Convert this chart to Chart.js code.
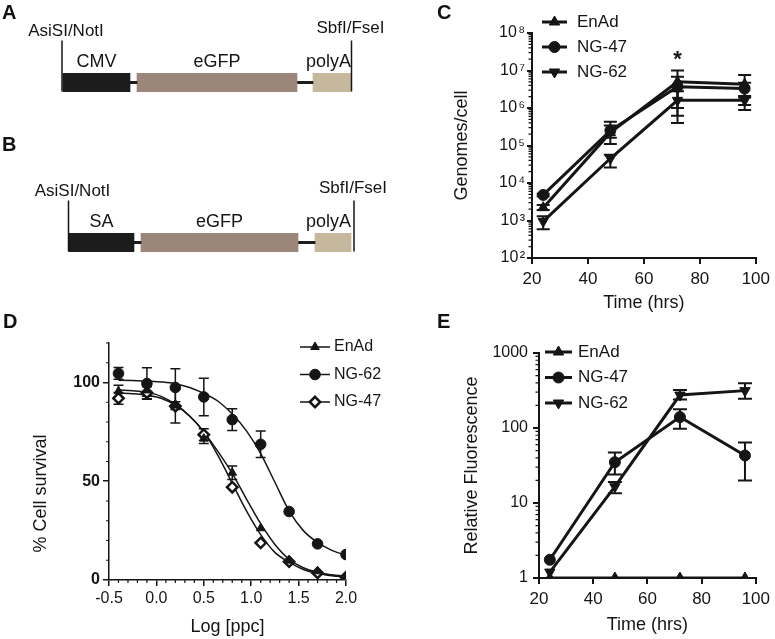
<!DOCTYPE html>
<html>
<head>
<meta charset="utf-8">
<script src="https://cdn.jsdelivr.net/npm/chart.js@4.4.1/dist/chart.umd.min.js"></script>
<style>
  html, body { margin: 0; padding: 0; background: #fff; }
  body { width: 775px; height: 639px; position: relative; overflow: hidden; font-family: 'Liberation Sans', Arial, sans-serif; }
  .panel { position: absolute; }
  .letter { position: absolute; font-weight: bold; font-size: 20px; line-height: 1; color: #111; z-index: 2; }
</style>
</head>
<body>
<div class="letter" style="left:2px;top:2px">A</div>
<div class="letter" style="left:2px;top:134px">B</div>
<div class="letter" style="left:437px;top:2px">C</div>
<div class="letter" style="left:3px;top:311px">D</div>
<div class="letter" style="left:437px;top:311px">E</div>

<div class="panel" style="left:0;top:0;width:400px;height:330px"><canvas id="construct"></canvas></div>
<div class="panel" style="left:400px;top:0;width:375px;height:320px"><canvas id="genomes"></canvas></div>
<div class="panel" style="left:0;top:320px;width:400px;height:325px"><canvas id="survival"></canvas></div>
<div class="panel" style="left:400px;top:320px;width:375px;height:319px"><canvas id="fluor"></canvas></div>

<script>
// ---- A/B: expression cassettes (map position, arbitrary units) ----
const constructRows = ['A', 'B'];
const promoterNames = ['CMV', 'SA'];
const promoterSpan = [[63, 130], [69, 134]];
const linker1Span = [[130, 137], [134, 141]];
const gfpSpan = [[137, 297], [141, 298]];
const linker2Span = [[297, 313], [298, 315]];
const polyASpan = [[313, 351], [315, 351]];
const siteLeft = [62, 68.5];
const siteRight = [351.5, 354];

// ---- C: genomes per cell ----
const hours = [24, 48, 72, 96];
const enadGenomes = [2200, 2.2e5, 5.0e6, 4.3e6];
const enadGenomesLow = [1900, 1.1e5, 1.0e6, 8.9e5];
const enadGenomesHigh = [2600, 3.4e5, 1.0e7, 7.6e6];
const ng47Genomes = [4800, 2.5e5, 3.7e6, 3.3e6];
const ng47GenomesLow = [4400, 1.6e5, 6.2e5, 1.9e6];
const ng47GenomesHigh = [5200, 4.3e5, 6.8e6, 4.7e6];
const ng62Genomes = [950, 4.5e4, 1.6e6, 1.6e6];
const ng62GenomesLow = [580, 2.6e4, 4.0e5, 1.2e6];
const ng62GenomesHigh = [1300, 5.7e4, 2.8e6, 2.1e6];
const genomeTicks = [1e2, 1e3, 1e4, 1e5, 1e6, 1e7, 1e8];
const starHours = [72];
const starLevel = [2.4e7];

// ---- D: cell survival ----
const logPpc = [-0.4, -0.1, 0.2, 0.5, 0.8, 1.1, 1.4, 1.7, 2.0];
const enadSurvival = [95.6, 96.0, 88.3, 71.6, 54.3, 26.2, 9.8, 4.4, 1.7];
const enadSd = [3, 3, 2, 2.5, 3.4, 0, 0, 0, 0];
const ng62Survival = [104.6, 99.5, 97.5, 92.7, 81.2, 68.7, 34.7, 18.3, 12.9];
const ng62Sd = [3, 8, 9.5, 9.5, 5.5, 6.7, 0, 0, 0];
const ng47Survival = [92.0, 94.8, 88.0, 73.6, 47.0, 18.8, 9.3, 3.6, 1.4];
const ng47Sd = [3, 3, 8.5, 3, 0, 0, 0, 0, 0];
const fitX = [-0.4, -0.25, -0.1, 0.05, 0.2, 0.35, 0.5, 0.65, 0.8, 0.95, 1.1, 1.25, 1.4, 1.55, 1.7, 1.85, 2.0];
const enadFit = [96.2, 95.8, 95.0, 93.0, 89.0, 83.0, 75.0, 65.0, 54.0, 41.0, 28.5, 18.0, 10.5, 6.2, 3.8, 2.6, 1.9];
const ng47Fit = [94.6, 94.3, 93.6, 92.0, 88.5, 83.0, 75.0, 63.0, 49.0, 35.0, 23.0, 14.0, 9.0, 5.3, 3.3, 2.2, 1.6];
const ng62Fit = [101.2, 101.0, 100.8, 100.3, 99.4, 97.5, 94.5, 90.5, 84.0, 75.5, 64.0, 49.5, 35.0, 25.0, 19.0, 15.0, 12.4];
const ppcTicks = [-0.5, 0, 0.5, 1.0, 1.5, 2.0];
const survivalTicks = [0, 50, 100];

// ---- E: relative fluorescence ----
const enadFluor = [1, 1, 1, 1];
const ng47Fluor = [1.75, 35, 140, 43];
const ng47FluorLow = [null, 24, 98, 20];
const ng47FluorHigh = [null, 47, 178, 64];
const ng62Fluor = [1.2, 16.5, 275, 315];
const ng62FluorLow = [null, 13.5, 240, 245];
const ng62FluorHigh = [null, 19, 320, 395];
const fluorTicks = [1, 10, 100, 1000];

const INK = '#151515';
const FONT = "'Liberation Sans', Arial, sans-serif";
const SUP = { 2: '\u00b2', 3: '\u00b3', 4: '\u2074', 5: '\u2075', 6: '\u2076', 7: '\u2077', 8: '\u2078' };

Chart.defaults.font.family = FONT;
Chart.defaults.color = INK;
Chart.defaults.animation = false;
Chart.defaults.responsive = true;
Chart.defaults.maintainAspectRatio = false;
Chart.defaults.plugins.legend.display = false;
Chart.defaults.plugins.tooltip.enabled = false;

function logMinors(lo, hi) {
    const out = [];
    for (let d = lo; d < hi; d *= 10) {
        for (let m = 2; m <= 9; m++) out.push(m * d);
    }
    return out;
}

// error bars from dataset.errLow / dataset.errHigh
const errorBars = {
    id: 'errorBars',
    beforeDatasetsDraw(chart, args, opts) {
        const ctx = chart.ctx;
        const yScale = chart.scales.y;
        ctx.save();
        ctx.strokeStyle = INK;
        ctx.lineWidth = opts.width;
        chart.data.datasets.forEach((ds, i) => {
            if (!ds.errLow) return;
            chart.getDatasetMeta(i).data.forEach((pt, j) => {
                const lo = ds.errLow[j], hi = ds.errHigh[j];
                if (lo == null || hi == null || lo === hi) return;
                const yl = yScale.getPixelForValue(lo), yh = yScale.getPixelForValue(hi);
                ctx.beginPath();
                ctx.moveTo(pt.x, yl); ctx.lineTo(pt.x, yh);
                ctx.moveTo(pt.x - opts.cap, yl); ctx.lineTo(pt.x + opts.cap, yl);
                ctx.moveTo(pt.x - opts.cap, yh); ctx.lineTo(pt.x + opts.cap, yh);
                ctx.stroke();
            });
        });
        ctx.restore();
    }
};

// short unlabeled ticks
const minorTicks = {
    id: 'minorTicks',
    afterDraw(chart, args, opts) {
        const { ctx, chartArea } = chart;
        ctx.save();
        ctx.strokeStyle = INK;
        ctx.lineWidth = opts.width;
        ctx.beginPath();
        (opts.y || []).forEach(v => {
            const py = chart.scales.y.getPixelForValue(v);
            ctx.moveTo(chartArea.left, py); ctx.lineTo(chartArea.left - opts.yLength, py);
        });
        (opts.x || []).forEach(v => {
            const px = chart.scales.x.getPixelForValue(v);
            ctx.moveTo(px, chartArea.bottom); ctx.lineTo(px, chartArea.bottom + opts.xLength);
        });
        ctx.stroke();
        ctx.restore();
    }
};

// legend with a line through each marker
const lineLegend = {
    id: 'lineLegend',
    afterDraw(chart, args, o) {
        const ctx = chart.ctx;
        let y = o.y0;
        ctx.save();
        chart.data.datasets.forEach(ds => {
            if (ds.legend === false) return;
            ctx.strokeStyle = INK;
            ctx.lineWidth = o.lineWidth;
            ctx.beginPath(); ctx.moveTo(o.x0, y); ctx.lineTo(o.x1, y); ctx.stroke();
            ctx.fillStyle = ds.pointBackgroundColor;
            ctx.strokeStyle = ds.pointBorderColor;
            ctx.lineWidth = ds.pointBorderWidth;
            Chart.helpers.drawPoint(ctx, {
                pointStyle: ds.pointStyle, radius: ds.pointRadius,
                rotation: ds.pointRotation || 0, borderWidth: ds.pointBorderWidth
            }, (o.x0 + o.x1) / 2, y);
            ctx.fillStyle = INK;
            ctx.font = o.textFont;
            ctx.textAlign = 'left';
            ctx.textBaseline = 'middle';
            ctx.fillText(ds.label, o.textX, y);
            y += o.gap;
        });
        ctx.restore();
    }
};

function series(label, xs, ys, lo, hi, style, rotation, radius, lineWidth) {
    return {
        label, data: xs.map((x, i) => ({ x, y: ys[i] })),
        errLow: lo, errHigh: hi,
        borderColor: INK, borderWidth: lineWidth,
        pointStyle: style, pointRotation: rotation, pointRadius: radius,
        pointBackgroundColor: INK, pointBorderColor: INK, pointBorderWidth: 1
    };
}

const axisGrid = (w, len) => ({ drawOnChartArea: false, tickLength: len, lineWidth: w, color: INK });

// ===== A / B =====
const constructMap = {
    id: 'constructMap',
    afterDatasetsDraw(chart) {
        const { ctx, scales: { x, y } } = chart;
        ctx.save();
        ctx.fillStyle = INK;
        ctx.strokeStyle = INK;
        ctx.lineWidth = 1.5;
        ctx.textAlign = 'center';
        ctx.textBaseline = 'middle';
        constructRows.forEach((row, i) => {
            const cy = y.getPixelForValue(i);
            [siteLeft[i], siteRight[i]].forEach(pos => {
                const px = x.getPixelForValue(pos);
                ctx.beginPath(); ctx.moveTo(px, cy - 42); ctx.lineTo(px, cy + 9); ctx.stroke();
            });
            ctx.font = '17px ' + FONT;
            ctx.fillText('AsiSI/NotI', x.getPixelForValue(siteLeft[i]) + 4, cy - 51);
            ctx.fillText('SbfI/FseI', x.getPixelForValue(siteRight[i]) - 1, cy - 54);
            ctx.font = '18px ' + FONT;
            [[promoterNames[i], promoterSpan[i]], ['eGFP', gfpSpan[i]], ['polyA', polyASpan[i]]].forEach(([name, span]) => {
                const a = x.getPixelForValue(span[0]), b = x.getPixelForValue(span[1]);
                const w = ctx.measureText(name).width;
                const cx = w > (b - a) ? b - w / 2 : (a + b) / 2;
                ctx.fillText(name, cx, cy - 20);
            });
        });
        ctx.restore();
    }
};

const box = (data, color, thick) => ({ data, backgroundColor: color, barThickness: thick, grouped: false, borderWidth: 0 });

new Chart(document.getElementById('construct'), {
    type: 'bar',
    data: {
        labels: constructRows,
        datasets: [
            box(promoterSpan, '#1c1c1c', 18.5),
            box(linker1Span, '#1c1c1c', 2.2),
            box(gfpSpan, '#9c8679', 18.5),
            box(linker2Span, '#1c1c1c', 2.2),
            box(polyASpan, '#c6b89c', 18.5)
        ]
    },
    options: {
        indexAxis: 'y',
        layout: { padding: { top: 2.5, bottom: 7.5, left: 0, right: 0 } },
        scales: {
            x: { type: 'linear', min: 0, max: 400, display: false },
            y: { type: 'category', display: false }
        }
    },
    plugins: [constructMap]
});

// ===== C =====
const starNotes = {
    id: 'starNotes',
    afterDraw(chart) {
        const { ctx, scales: { x, y } } = chart;
        ctx.save();
        ctx.fillStyle = INK;
        ctx.font = 'bold 22px ' + FONT;
        ctx.textAlign = 'center';
        ctx.textBaseline = 'middle';
        starHours.forEach((h, i) => ctx.fillText('*', x.getPixelForValue(h), y.getPixelForValue(starLevel[i]) + 4));
        ctx.restore();
    }
};

new Chart(document.getElementById('genomes'), {
    type: 'line',
    data: {
        datasets: [
            series('EnAd', hours, enadGenomes, enadGenomesLow, enadGenomesHigh, 'triangle', 0, 6, 3),
            series('NG-47', hours, ng47Genomes, ng47GenomesLow, ng47GenomesHigh, 'circle', 0, 5.5, 3),
            series('NG-62', hours, ng62Genomes, ng62GenomesLow, ng62GenomesHigh, 'triangle', 180, 6, 3)
        ]
    },
    options: {
        layout: { padding: { top: 33, right: 18, left: 0, bottom: 0 } },
        scales: {
            x: {
                type: 'linear', min: 20, max: 100,
                ticks: { stepSize: 20, font: { size: 17 }, padding: 5, color: INK },
                grid: axisGrid(2, 6), border: { color: INK, width: 2 },
                title: { display: true, text: 'Time (hrs)', font: { size: 18 }, color: INK, padding: { top: 0, bottom: 6 } },
                afterFit: s => { s.height = 62; }
            },
            y: {
                type: 'logarithmic', min: 1e2, max: 1e8,
                afterBuildTicks: s => { s.ticks = genomeTicks.map(v => ({ value: v })); },
                ticks: { callback: v => '10\u200a' + SUP[Math.round(Math.log10(v))], font: { size: 16 }, padding: 2, color: INK },
                grid: axisGrid(2, 5), border: { color: INK, width: 2 },
                title: { display: true, text: 'Genomes/cell', font: { size: 18 }, color: INK, padding: { top: 51, bottom: 0 } },
                afterFit: s => { s.width = 132; }
            }
        },
        plugins: {
            errorBars: { cap: 6.5, width: 2 },
            minorTicks: { y: logMinors(1e2, 1e8), yLength: 3.5, width: 1.2 },
            lineLegend: { x0: 142, x1: 167, textX: 177, y0: 22, gap: 25, lineWidth: 3, textFont: '17px ' + FONT }
        }
    },
    plugins: [errorBars, minorTicks, lineLegend, starNotes]
});

// ===== D =====
const pm = (vals, sd, sign) => vals.map((v, i) => sd[i] ? v + sign * sd[i] : null);
const fitLine = (ys) => ({
    data: fitX.map((x, i) => ({ x, y: ys[i] })), legend: false,
    borderColor: INK, borderWidth: 1.5, pointRadius: 0, cubicInterpolationMode: 'monotone'
});
const survivalPoints = (label, ys, sd, style, radius, fill, bw) => ({
    label, data: logPpc.map((x, i) => ({ x, y: ys[i] })), showLine: false,
    errLow: pm(ys, sd, -1), errHigh: pm(ys, sd, 1),
    pointStyle: style, pointRadius: radius, pointRotation: 0,
    pointBackgroundColor: fill, pointBorderColor: INK, pointBorderWidth: bw,
    borderColor: INK
});

const titleNotes = {
    id: 'titleNotes',
    afterDraw(chart) {
        const { ctx, chartArea } = chart;
        ctx.save();
        ctx.fillStyle = INK;
        ctx.font = '18px ' + FONT;
        ctx.textAlign = 'center';
        ctx.textBaseline = 'middle';
        ctx.translate(41, (chartArea.top + chartArea.bottom) / 2 + 32);
        ctx.rotate(-Math.PI / 2);
        ctx.fillText('% Cell survival', 0, 0);
        ctx.restore();
    }
};

const ppcMinor = [];
for (let k = -4; k <= 19; k++) if (k % 5 !== 0) ppcMinor.push(k / 10);
const survivalMinor = [10, 20, 30, 40, 60, 70, 80, 90, 110, 120];

new Chart(document.getElementById('survival'), {
    type: 'line',
    data: {
        datasets: [
            survivalPoints('EnAd', enadSurvival, enadSd, 'triangle', 5, INK, 1),
            survivalPoints('NG-62', ng62Survival, ng62Sd, 'circle', 5.3, INK, 1),
            survivalPoints('NG-47', ng47Survival, ng47Sd, 'rectRot', 5.2, '#ffffff', 2.5),
            fitLine(enadFit),
            fitLine(ng62Fit),
            fitLine(ng47Fit)
        ]
    },
    options: {
        layout: { padding: { top: 23, right: 54, left: 0, bottom: 0 } },
        scales: {
            x: {
                type: 'linear', min: -0.5, max: 2.0,
                afterBuildTicks: s => { s.ticks = ppcTicks.map(v => ({ value: v })); },
                ticks: { callback: v => v.toFixed(1), font: { size: 16 }, padding: 3, color: INK },
                grid: axisGrid(1.5, 6), border: { color: INK, width: 1.5 },
                title: { display: true, text: 'Log [ppc]', font: { size: 18 }, color: INK, padding: { top: 0, bottom: 7 } },
                afterFit: s => { s.height = 65; }
            },
            y: {
                type: 'linear', min: 0, max: 120,
                afterBuildTicks: s => { s.ticks = survivalTicks.map(v => ({ value: v })); },
                ticks: { font: { size: 16, weight: 'bold' }, padding: 3, color: INK },
                grid: axisGrid(1.5, 6), border: { color: INK, width: 1.5 },
                afterFit: s => { s.width = 109; }
            }
        },
        plugins: {
            errorBars: { cap: 5, width: 1.5 },
            minorTicks: { x: ppcMinor, y: survivalMinor, xLength: 3, yLength: 3, width: 1.2 },
            lineLegend: { x0: 300, x1: 330, textX: 334, y0: 27, gap: 27.5, lineWidth: 1.5, textFont: '16px ' + FONT }
        }
    },
    plugins: [errorBars, minorTicks, lineLegend, titleNotes]
});

// ===== E =====
const enadFluorSeries = series('EnAd', hours, enadFluor, null, null, 'triangle', 0, 6, 3);
enadFluorSeries.clip = { left: 10, right: 10, top: 10, bottom: 0 };

new Chart(document.getElementById('fluor'), {
    type: 'line',
    data: {
        datasets: [
            enadFluorSeries,
            series('NG-47', hours, ng47Fluor, ng47FluorLow, ng47FluorHigh, 'circle', 0, 5.5, 3),
            series('NG-62', hours, ng62Fluor, ng62FluorLow, ng62FluorHigh, 'triangle', 180, 6, 3)
        ]
    },
    options: {
        layout: { padding: { top: 33, right: 10, left: 0, bottom: 0 } },
        scales: {
            x: {
                type: 'linear', min: 20, max: 100,
                ticks: { stepSize: 20, font: { size: 17 }, padding: 5, color: INK },
                grid: axisGrid(2, 6), border: { color: INK, width: 2 },
                title: { display: true, text: 'Time (hrs)', font: { size: 18 }, color: INK, padding: { top: 0, bottom: 3 } },
                afterFit: s => { s.height = 61; }
            },
            y: {
                type: 'logarithmic', min: 1, max: 1000,
                afterBuildTicks: s => { s.ticks = fluorTicks.map(v => ({ value: v })); },
                ticks: { callback: v => String(v), font: { size: 16 }, padding: 5, color: INK },
                grid: axisGrid(2, 6), border: { color: INK, width: 2 },
                title: { display: true, text: 'Relative Fluorescence', font: { size: 18 }, color: INK, padding: { top: 61, bottom: 0 } },
                afterFit: s => { s.width = 139; }
            }
        },
        plugins: {
            errorBars: { cap: 7, width: 2 },
            minorTicks: { y: logMinors(1, 1000), yLength: 3.5, width: 1.2 },
            lineLegend: { x0: 145, x1: 172, textX: 178, y0: 32, gap: 25.5, lineWidth: 3, textFont: '17px ' + FONT }
        }
    },
    plugins: [errorBars, minorTicks, lineLegend]
});
</script>
</body>
</html>
